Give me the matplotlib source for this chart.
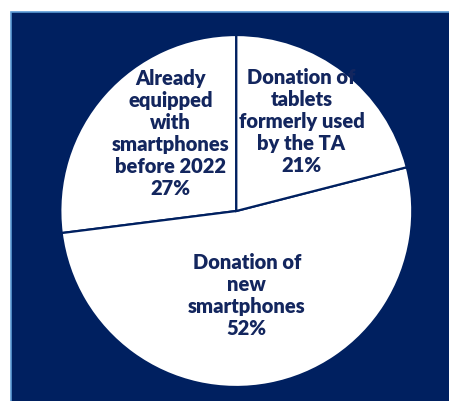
import matplotlib
matplotlib.use("Agg")
import matplotlib.pyplot as plt
from matplotlib.patches import Rectangle

# data
labels = ["Already\nequipped\nwith\nsmartphones\nbefore 2022",
          "Donation of\nnew\nsmartphones",
          "Donation of\ntablets\nformerly used\nby the TA"]
shares = [27, 52, 21]

navy = "#002060"
text_col = "#13265e"

fig = plt.figure(figsize=(4.49, 4.01), dpi=100)
W, H = 449, 401

# navy panel with light blue edge on the left/top
fig.patches.append(Rectangle((11 / W, -0.01), 1, (H - 12) / H + 0.01, transform=fig.transFigure,
                             facecolor=navy, edgecolor="#5b9bd5", linewidth=1.2,
                             zorder=-1))

# pie: centre ~(236, 211) px, radius ~176 px
cx, cy, r = 236.3, 211, 176
ax = fig.add_axes([(cx - r) / W, (H - cy - r) / H, 2 * r / W, 2 * r / H])
wedges, _ = ax.pie(shares, startangle=90, counterclock=True,
                   colors=["white"] * 3,
                   wedgeprops=dict(edgecolor=navy, linewidth=1.6))
ax.set_xlim(-1, 1)
ax.set_ylim(-1, 1)
ax.set_axis_off()

# label positions in pie coords
label_pos = [(-0.375, 0.44), (0.06, -0.48), (0.37, 0.51)]
for w, lab, val, (x, y) in zip(wedges, labels, shares, label_pos):
    t = ax.text(x, y, f"{lab}\n{val}%", ha="center", va="center",
                fontsize=14.5, fontweight="heavy", family="Lato",
                color=text_col, linespacing=1.18)
    t.set_clip_path(w)

fig.savefig("out.png", dpi=100, facecolor="white")
